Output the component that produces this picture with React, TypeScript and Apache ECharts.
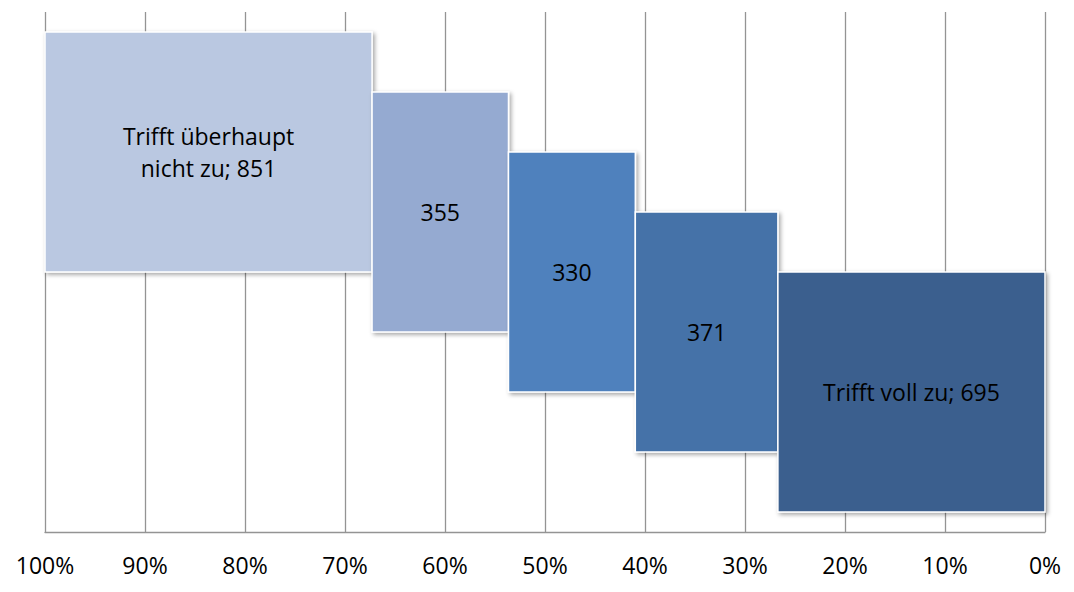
import React, { useEffect, useRef } from "react";
import * as echarts from "echarts";

// Data
const categoryNames = ["Trifft überhaupt\nnicht zu", "", "", "", "Trifft voll zu"];
const counts = [851, 355, 330, 371, 695];
const colors = ["#BAC8E1", "#95AAD1", "#4F81BD", "#4472A8", "#3B5F8E"];
const xTickValues = [0, 10, 20, 30, 40, 50, 60, 70, 80, 90, 100];

const FONT = "'Open Sans', 'Liberation Sans', sans-serif";

export default function App() {
  const ref = useRef<HTMLDivElement>(null);

  useEffect(() => {
    if (!ref.current) return;
    const chart = echarts.init(ref.current, null, { renderer: "svg" });
    const total = counts.reduce((a, b) => a + b, 0);
    let cum = 0;
    const data = counts.map((c, i) => {
      const start = 100 - (cum / total) * 100;
      cum += c;
      const end = 100 - (cum / total) * 100;
      const top = 25 - 3 * i;
      const bottom = top - 12;
      const name = categoryNames[i];
      const label = name ? `${name}; ${c}` : `${c}`;
      return { value: [start, end, top, bottom, c], label };
    });

    chart.setOption({
      animation: false,
      grid: { left: 45, right: 29, top: 12, bottom: 60 },
      xAxis: {
        type: "value",
        inverse: true,
        min: xTickValues[0],
        max: xTickValues[xTickValues.length - 1],
        interval: xTickValues[1] - xTickValues[0],
        axisLine: { show: true, lineStyle: { color: "#949494", width: 1.3 } },
        axisTick: { show: false },
        splitLine: { show: true, lineStyle: { color: "#949494", width: 1.3 } },
        axisLabel: {
          formatter: "{value}%",
          color: "#000",
          fontSize: 23,
          fontFamily: FONT,
          margin: 21,
        },
      },
      yAxis: {
        type: "value",
        min: 0,
        max: 26,
        show: false,
        splitLine: { show: false },
      },
      series: [
        {
          type: "custom",
          data: data.map((d) => d.value),
          renderItem: (params: any, api: any) => {
            const idx = params.dataIndex;
            const p0 = api.coord([api.value(0), api.value(2)]);
            const p1 = api.coord([api.value(1), api.value(3)]);
            const x = Math.min(p0[0], p1[0]);
            const w = Math.abs(p1[0] - p0[0]);
            return {
              type: "rect",
              shape: { x, y: p0[1], width: w, height: p1[1] - p0[1] },
              style: {
                fill: colors[idx],
                stroke: "#FFFFFF",
                lineWidth: 1.5,
                shadowBlur: 4,
                shadowOffsetX: 2,
                shadowOffsetY: 2,
                shadowColor: "rgba(0,0,0,0.35)",
              },
              textContent: {
                type: "text",
                style: {
                  text: data[idx].label,
                  fill: "#000",
                  fontSize: 23,
                  fontFamily: FONT,
                  lineHeight: 32,
                  align: "center",
                },
              },
              textConfig: { position: "inside" },
            };
          },
        },
      ],
    });
    return () => chart.dispose();
  }, []);

  return (
    <div
      ref={ref}
      style={{ position: "absolute", left: 0, top: 0, width: 1074, height: 592 }}
    />
  );
}
